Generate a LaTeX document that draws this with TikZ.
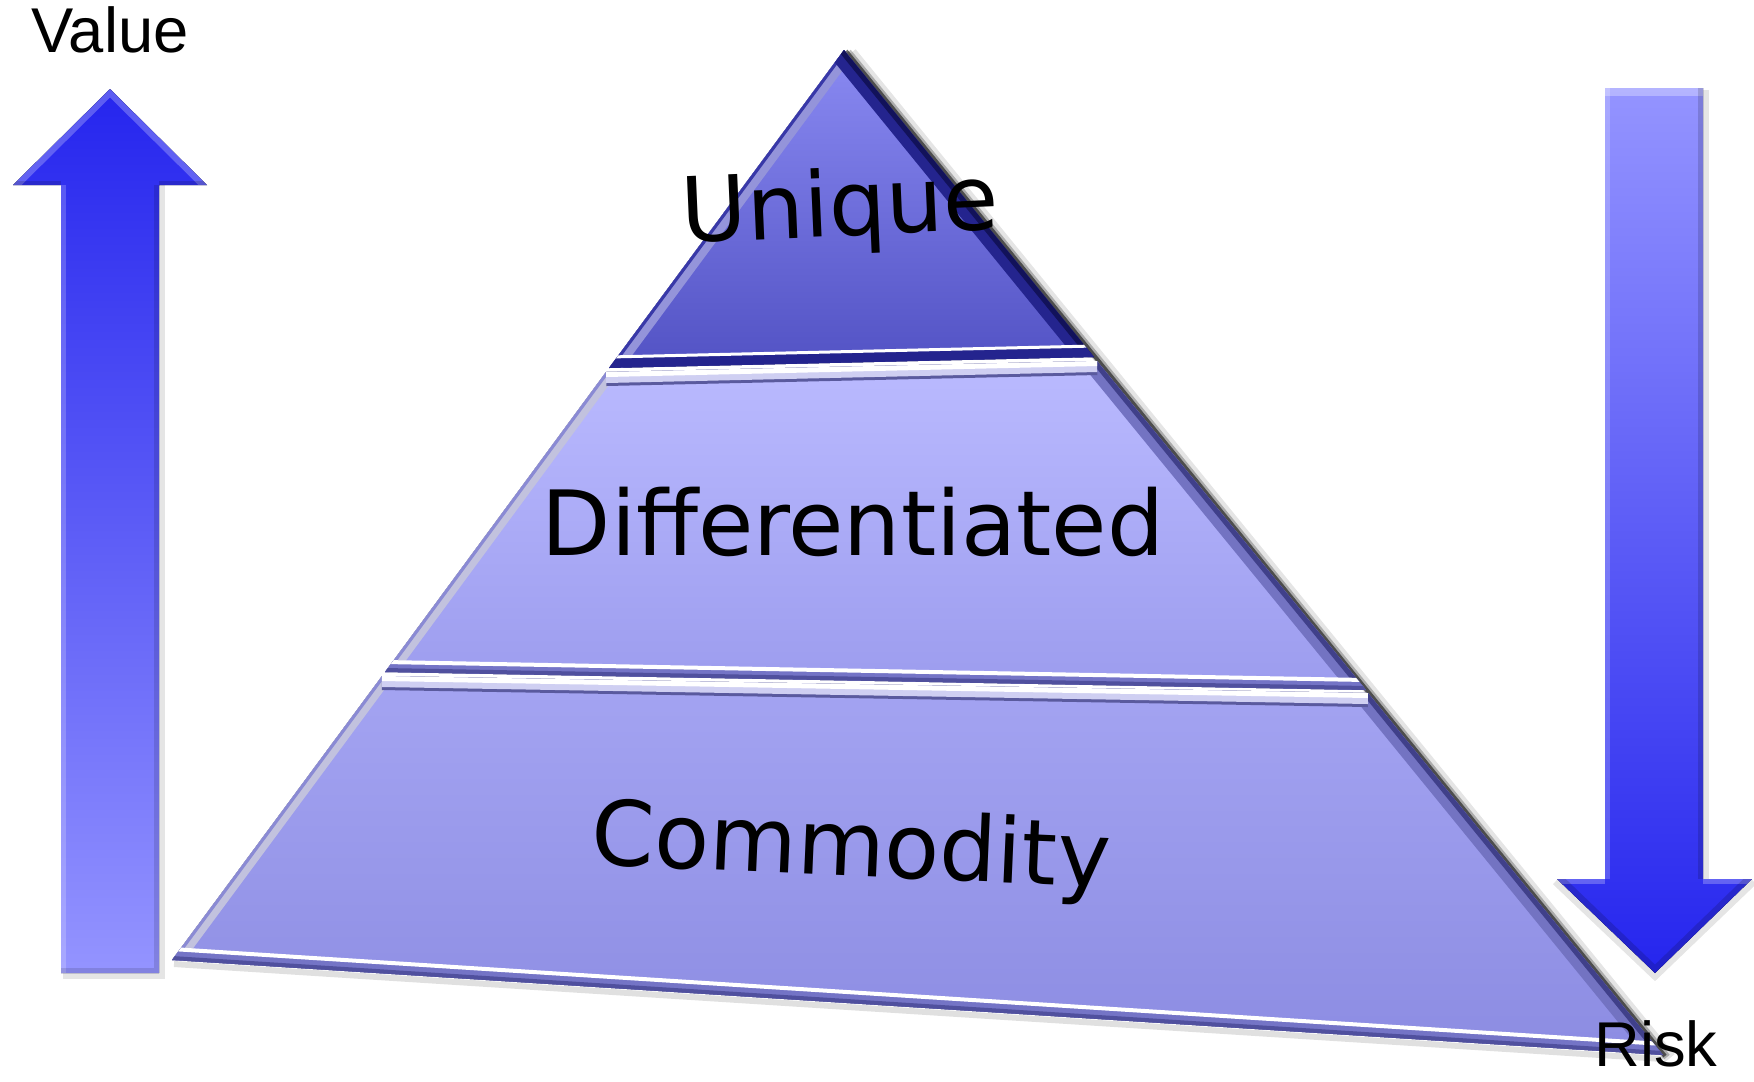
\documentclass[tikz,border=0pt]{standalone}
\usepackage{fontspec}
\setmainfont{DejaVu Sans}
\newfontfamily\labfont{Liberation Sans}
\newfontfamily\pyrfont{DejaVu Sans}
\usetikzlibrary{calc}
\definecolor{uTop}{HTML}{8A8AF2}
\definecolor{uBot}{HTML}{5252C4}
\definecolor{uLeft}{HTML}{9494DA}
\definecolor{uEdge}{HTML}{3838A8}
\definecolor{uDark}{HTML}{24248E}
\definecolor{uDarker}{HTML}{12125A}
\definecolor{dTop}{HTML}{BABAFF}
\definecolor{dBot}{HTML}{9C9CEE}
\definecolor{cTop}{HTML}{A4A4F2}
\definecolor{cBot}{HTML}{8C8CE2}
\definecolor{pLeft}{HTML}{C2C2DE}
\definecolor{pLeftE}{HTML}{8A8AD4}
\definecolor{pRight}{HTML}{7373C2}
\definecolor{pRightE}{HTML}{40408A}
\definecolor{pTopL}{HTML}{CFCFF2}
\definecolor{pTopD}{HTML}{5A5A9E}
\definecolor{pBot}{HTML}{7474C6}
\definecolor{pBotE}{HTML}{50509E}
\definecolor{aDark}{HTML}{2525EE}
\definecolor{aLight}{HTML}{9494FF}
\tikzset{
  bev/.style={line width=#1*0.569pt},
  pw/.style={line width=#1*0.2845pt},
  pyrlabel/.style={font=\pyrfont\fontsize{25.6}{30}\selectfont, anchor=base, inner sep=0pt},
  sidelabel/.style={font=\labfont\fontsize{18}{21}\selectfont, anchor=base, inner sep=0pt},
}
\begin{document}
\begin{tikzpicture}[x=0.01cm,y=-0.01cm]
\useasboundingbox[fill=white] (0,0) rectangle (1754,1081);
% pyramid points
\coordinate (A) at (844,50);
\coordinate (BL) at (172,960);
\coordinate (BR) at (1663,1055);
\coordinate (UL) at (609,368);
\coordinate (UR) at (1094,357);
\coordinate (DTL) at (606,372);
\coordinate (DTR) at (1097,361);
\coordinate (DBL) at (385,672);
\coordinate (DBR) at (1366,690);
\coordinate (CTL) at (382,676);
\coordinate (CTR) at (1368,693);
% arrows points
\coordinate (LT) at (110,89);
\coordinate (LHR) at (207,185);
\coordinate (LSR) at (159,185);
\coordinate (LBR) at (159,973);
\coordinate (LBL) at (61,973);
\coordinate (LSL) at (61,185);
\coordinate (LHL) at (13,185);
\coordinate (RTL) at (1605,88);
\coordinate (RTR) at (1703,88);
\coordinate (RSR) at (1703,879);
\coordinate (RHR) at (1752,879);
\coordinate (RT) at (1655,973);
\coordinate (RHL) at (1557,879);
\coordinate (RSL) at (1605,879);

% shadows
\draw[pw=12, black, opacity=0.10] ($(A)+(7,3)$) -- ($(BR)+(7,3)$);
\draw[pw=7, black, opacity=0.25] ($(A)+(4,2)$) -- ($(BR)+(4,2)$);
\draw[pw=4, black, opacity=0.55] ($(A)+(2,1)$) -- ($(BR)+(2,1)$);
\draw[pw=6, black, opacity=0.12] ($(BL)+(2,4)$) -- ($(BR)+(0,4)$);
\draw[pw=6, black, opacity=0.10] ($(LBL)+(2,3)$) -- ($(LBR)+(3,3)$) -- ($(LSR)+(3,0)$);
\draw[pw=6, black, opacity=0.10] ($(RTR)+(3,2)$) -- ($(RSR)+(3,0)$);
\draw[pw=6, black, opacity=0.10] ($(RHR)+(2,3)$) -- ($(RT)+(0,4)$) -- ($(RHL)+(-2,3)$);

% left arrow (Value)
\fill[top color=aDark, bottom color=aLight] (LT) -- (LHR) -- (LSR) -- (LBR) -- (LBL) -- (LSL) -- (LHL) -- cycle;
\begin{scope}
\clip (LT) -- (LHR) -- (LSR) -- (LBR) -- (LBL) -- (LSL) -- (LHL) -- cycle;
\draw[bev=6, white, opacity=0.25] (LHL) -- (LT) -- (LHR);
\draw[bev=5, white, opacity=0.2] (LSL) -- (LBL);
\draw[bev=5, black, opacity=0.12] (LSR) -- (LBR) -- (LBL);
\draw[bev=4, black, opacity=0.15] (LHL) -- (LSL);
\draw[bev=4, black, opacity=0.15] (LSR) -- (LHR);
\end{scope}

% right arrow (Risk)
\fill[top color=aLight, bottom color=aDark] (RTL) -- (RTR) -- (RSR) -- (RHR) -- (RT) -- (RHL) -- (RSL) -- cycle;
\begin{scope}
\clip (RTL) -- (RTR) -- (RSR) -- (RHR) -- (RT) -- (RHL) -- (RSL) -- cycle;
\draw[bev=8, white, opacity=0.3] (RTL) -- (RTR);
\draw[bev=5, white, opacity=0.2] (RTL) -- (RSL);
\draw[bev=5, black, opacity=0.15] (RTR) -- (RSR);
\draw[bev=5, white, opacity=0.25] (RHL) -- (RSL);
\draw[bev=5, white, opacity=0.25] (RSR) -- (RHR);
\draw[bev=6, black, opacity=0.15] (RHR) -- (RT) -- (RHL);
\end{scope}

% Unique band
\fill[top color=uTop, bottom color=uBot] (A) -- (UL) -- (UR) -- cycle;
\begin{scope}
\clip (A) -- (UL) -- (UR) -- cycle;
\draw[bev=11, uLeft] (A) -- (UL);
\draw[bev=3, uEdge] (A) -- (UL);
\draw[bev=15, uDark] (A) -- (UR);
\draw[bev=5, uDarker] (A) -- (UR);
\draw[bev=10, uDark] (UL) -- (UR);
\draw[pw=3, white] ($(UL)+(0,-11)$) -- ($(UR)+(0,-11)$);
\end{scope}

% Differentiated band
\fill[top color=dTop, bottom color=dBot] (DTL) -- (DTR) -- (DBR) -- (DBL) -- cycle;
\begin{scope}
\clip (DTL) -- (DTR) -- (DBR) -- (DBL) -- cycle;
\draw[bev=10, pLeft] (DTL) -- (DBL);
\draw[bev=3, pLeftE] (DTL) -- (DBL);
\draw[bev=14, pRight] (DTR) -- (DBR);
\draw[bev=5, pRightE] (DTR) -- (DBR);
\draw[bev=14, pTopD] (DTL) -- (DTR);
\draw[bev=11, pTopL] (DTL) -- (DTR);
\draw[bev=5, white] (DTL) -- (DTR);
\draw[bev=11, pBot] (DBL) -- (DBR);
\draw[bev=4, pBotE] (DBL) -- (DBR);
\draw[pw=4, white] ($(DBL)+(0,-10)$) -- ($(DBR)+(0,-10)$);
\end{scope}

% Commodity band
\fill[top color=cTop, bottom color=cBot] (CTL) -- (CTR) -- (BR) -- (BL) -- cycle;
\begin{scope}
\clip (CTL) -- (CTR) -- (BR) -- (BL) -- cycle;
\draw[bev=10, pLeft] (CTL) -- (BL);
\draw[bev=3, pLeftE] (CTL) -- (BL);
\draw[bev=14, pRight] (CTR) -- (BR);
\draw[bev=5, pRightE] (CTR) -- (BR);
\draw[bev=14, pTopD] (CTL) -- (CTR);
\draw[bev=11, pTopL] (CTL) -- (CTR);
\draw[bev=5, white] (CTL) -- (CTR);
\draw[bev=12, pBot] (BL) -- (BR);
\draw[bev=4, pBotE] (BL) -- (BR);
\draw[pw=4, white] ($(BL)+(0,-11)$) -- ($(BR)+(0,-11)$);
\end{scope}

% labels
\node[pyrlabel, rotate=2.5] (unique) at (841,236) {Unique};
\node[pyrlabel] (diff) at (853,555) {Differentiated};
\node[pyrlabel, rotate=-2.5] (comm) at (850,876) {Commodity};
\node[sidelabel] (value) at (110,52) {Value};
\node[sidelabel] (risk) at (1656,1066) {Risk};
\end{tikzpicture}
\end{document}
